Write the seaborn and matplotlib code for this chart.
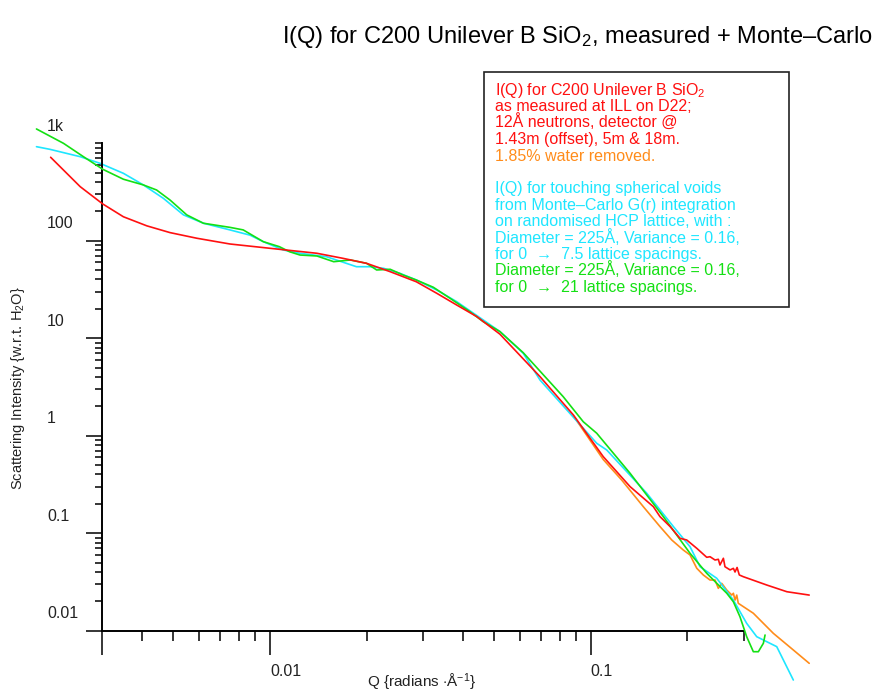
import numpy as np
import pandas as pd
import matplotlib
matplotlib.use("Agg")
import matplotlib.pyplot as plt
import matplotlib.transforms as mtransforms
from matplotlib.patches import Rectangle
import seaborn as sns

# --- data (Q in 1/A, I relative to H2O) ---
red_q = [0.00207, 0.00256, 0.00301, 0.00349, 0.00413, 0.00488, 0.00591, 0.00750,
         0.0107, 0.0140, 0.0169, 0.0200, 0.0237, 0.0286, 0.0331, 0.0382, 0.0442,
         0.0521, 0.0695, 0.0883, 0.1094, 0.1327, 0.1568, 0.1644, 0.1768, 0.1899,
         0.1992, 0.2141, 0.2300, 0.2355, 0.2441, 0.2500, 0.2529, 0.2592, 0.2622,
         0.2720, 0.2785, 0.2818, 0.2860, 0.2906, 0.2991, 0.354, 0.409, 0.480]
red_i = [717, 358, 238, 176, 142, 121, 106, 92.5,
         81.6, 74.3, 65.9, 58.6, 48.1, 37.9, 28.9, 21.9, 16.6,
         11.0, 4.03, 1.63, 0.610, 0.300, 0.187, 0.148, 0.117, 0.0886,
         0.0852, 0.0700, 0.0566, 0.0574, 0.0531, 0.0540, 0.0472, 0.0553, 0.0453,
         0.0420, 0.0436, 0.0400, 0.0445, 0.0373, 0.0358, 0.0294, 0.0251, 0.0232]

orange_q = [0.0883, 0.1094, 0.1249, 0.1459, 0.1644, 0.1789, 0.1944, 0.2040, 0.2141,
            0.2244, 0.2355, 0.2441, 0.2500, 0.2562, 0.2656, 0.2753, 0.2785, 0.2818,
            0.2853, 0.2885, 0.3214, 0.3710, 0.4283, 0.480]
orange_i = [1.60, 0.570, 0.351, 0.187, 0.117, 0.0852, 0.0672, 0.0598, 0.0437,
            0.0373, 0.0331, 0.0331, 0.0272, 0.0306, 0.0261, 0.0232, 0.0242, 0.0206,
            0.0232, 0.0191, 0.0151, 0.0094, 0.00634, 0.00463]

cyan_q = [0.00187, 0.00206, 0.00256, 0.00295, 0.00349, 0.00403, 0.00465, 0.00537,
          0.00620, 0.00750, 0.00866, 0.00953, 0.0110, 0.0124, 0.0150, 0.0173,
          0.0186, 0.0205, 0.0226, 0.0254, 0.0286, 0.0331, 0.0382, 0.0462, 0.0521,
          0.0616, 0.0695, 0.1044, 0.1122, 0.1495, 0.1810, 0.2040, 0.2192, 0.2471,
          0.2785, 0.3064, 0.3293, 0.354, 0.3802, 0.4283]
cyan_i = [921, 865, 727, 622, 491, 373, 272, 184,
          151, 129, 114, 97.7, 80.3, 74.3, 68.5, 58.6,
          54.1, 54.1, 52.1, 46.3, 39.5, 31.2, 23.7, 15.4, 11.7,
          7.00, 3.72, 0.836, 0.713, 0.257, 0.117, 0.0727, 0.0453, 0.0345,
          0.0206, 0.0119, 0.00868, 0.00771, 0.00686, 0.00312]

green_q = [0.00187, 0.00227, 0.00262, 0.00301, 0.00349, 0.00403, 0.00443, 0.00488,
           0.00550, 0.00620, 0.00750, 0.00825, 0.00953, 0.0107, 0.0115, 0.0124,
           0.0140, 0.0158, 0.0178, 0.0200, 0.0215, 0.0237, 0.0260, 0.0286, 0.0323,
           0.0364, 0.0420, 0.0462, 0.0521, 0.0616, 0.0821, 0.0948, 0.1044, 0.1327,
           0.1684, 0.2040, 0.2300, 0.2656, 0.2785, 0.2920, 0.3064, 0.3214, 0.3332,
           0.3454, 0.3496]
green_i = [1399, 997, 727, 540, 427, 373, 331, 261,
           184, 151, 137, 129, 97.7, 86.8, 77.1, 71.3,
           69.7, 60.9, 63.4, 58.6, 50.1, 50.9, 44.5, 39.5, 33.3,
           25.7, 18.7, 14.8, 11.7, 7.10, 2.51, 1.39, 1.06, 0.411,
           0.148, 0.0622, 0.0388, 0.0242, 0.0198, 0.0139, 0.00868, 0.00609, 0.00609,
           0.00743, 0.00903]

x_major = [0.003, 0.01, 0.1]
x_minor = [0.004, 0.005, 0.006, 0.007, 0.008, 0.009,
           0.02, 0.03, 0.04, 0.05, 0.06, 0.07, 0.08, 0.09, 0.2, 0.3]
x_labels = {0.01: "0.01", 0.1: "0.1"}
y_major = [0.01, 0.1, 1, 10, 100]
y_labels = {0.01: "0.01", 0.1: "0.1", 1: "1", 10: "10", 100: "100", 1000: "1k"}

C_RED = "#ff1010"
C_ORANGE = "#ff8c1a"
C_CYAN = "#1ee6ff"
C_GREEN = "#14e014"

legend_lines = [
    ("I(Q) for C200 Unilever B SiO$_2$", C_RED),
    ("as measured at ILL on D22;", C_RED),
    ("12Å neutrons, detector @", C_RED),
    ("1.43m (offset), 5m & 18m.", C_RED),
    ("1.85% water removed.", C_ORANGE),
    ("", C_RED),
    ("I(Q) for touching spherical voids", C_CYAN),
    ("from Monte–Carlo G(r) integration", C_CYAN),
    ("on randomised HCP lattice, with :", C_CYAN),
    ("Diameter = 225Å, Variance = 0.16,", C_CYAN),
    ("for 0  →  7.5 lattice spacings.", C_CYAN),
    ("Diameter = 225Å, Variance = 0.16,", C_GREEN),
    ("for 0  →  21 lattice spacings.", C_GREEN),
]

# --- style ---
sns.set_style("ticks")
plt.rcParams["font.family"] = ["Liberation Sans", "DejaVu Sans"]
plt.rcParams["mathtext.fontset"] = "custom"
plt.rcParams["mathtext.rm"] = "Liberation Sans"
plt.rcParams["mathtext.it"] = "Liberation Sans:italic"
plt.rcParams["mathtext.bf"] = "Liberation Sans:bold"

W, H = 876, 692
fig = plt.figure(figsize=(W / 100, H / 100), dpi=100)

# axes rectangle in pixels and its data limits (calibrated on the reference)
px_l, px_r, px_t, px_b = 30, 830, 110, 690
ax = fig.add_axes([px_l / W, 1 - px_b / H, (px_r - px_l) / W, (px_b - px_t) / H])
ax.set_xscale("log")
ax.set_yscale("log")
ax.set_xlim(0.001785, 0.5573)
ax.set_ylim(0.002465, 2190)

series = [
    (orange_q, orange_i, C_ORANGE, 1),
    (cyan_q, cyan_i, C_CYAN, 2),
    (green_q, green_i, C_GREEN, 3),
    (red_q, red_i, C_RED, 4),
]
for q, i, col, z in series:
    d = pd.DataFrame({"Q": q, "I": i})
    sns.lineplot(data=d, x="Q", y="I", color=col, linewidth=1.2, ax=ax,
                 estimator=None, sort=False, zorder=z)

ax.set_xlabel("")
ax.set_ylabel("")

# crossing axes, Igor-like
for s in ["top", "right"]:
    ax.spines[s].set_visible(False)
ax.spines["left"].set_position(("data", 0.003))
ax.spines["left"].set_bounds(0.01, 1000)
ax.spines["bottom"].set_position(("data", 0.01))
ax.spines["bottom"].set_bounds(0.003, 0.3)
for s in ["left", "bottom"]:
    ax.spines[s].set_linewidth(1.4)
    ax.spines[s].set_color("black")

ax.set_xticks(x_major)
ax.set_xticks(x_minor, minor=True)
y_minor = [m * 10.0 ** e for e in range(-2, 3) for m in range(2, 10)] + [1000]
ax.set_yticks(y_major)
ax.set_yticks(y_minor, minor=True)
ax.set_xticklabels([])
ax.set_xticklabels([], minor=True)
ax.set_yticklabels([])
ax.set_yticklabels([], minor=True)
ax.tick_params(axis="x", which="both", bottom=True, top=False, direction="out",
               width=1.1, color="black")
ax.tick_params(axis="y", which="both", left=True, right=False, direction="out",
               width=1.1, color="black")
ax.tick_params(axis="x", which="major", length=17.5)
ax.tick_params(axis="x", which="minor", length=7)
ax.tick_params(axis="y", which="major", length=11.5)
ax.tick_params(axis="y", which="minor", length=5)

# tick labels: y labels left-aligned at a fixed column, lifted above their ticks
up = mtransforms.ScaledTranslation(0, 17 / 100, fig.dpi_scale_trans)
for v, lab in y_labels.items():
    ax.text((47 - px_l) / (px_r - px_l), v, lab, transform=ax.get_yaxis_transform() + up,
            ha="left", va="center", fontsize=11.5, color="#222222")
down = mtransforms.ScaledTranslation(0, -41 / 100, fig.dpi_scale_trans)
for v, lab in x_labels.items():
    ax.text(v, 0.01, lab, transform=ax.transData + down,
            ha="left", va="center", fontsize=11.5, color="#222222")

fig.text(422 / W, 1 - 682 / H, "Q {radians $\\cdot$Å$^{-1}$}", ha="center", va="center",
         fontsize=11, color="#222222")
fig.text(18 / W, 1 - 388 / H, "Scattering Intensity {w.r.t. H$_2$O}", ha="center",
         va="center", rotation=90, fontsize=10.5, color="#222222")

fig.text(577 / W, 1 - 37 / H, "I(Q) for C200 Unilever B SiO$_2$, measured + Monte–Carlo",
         ha="center", va="center", fontsize=17, color="black")

# annotation box
fig.patches.append(Rectangle((484 / W, 1 - 307 / H), (789 - 484) / W, (307 - 72) / H,
                             transform=fig.transFigure, facecolor="white",
                             edgecolor="#222222", linewidth=1.2, zorder=5))
for k, (txt, col) in enumerate(legend_lines):
    if txt:
        fig.text(495 / W, 1 - (95 + 16.4 * k) / H, txt, ha="left", va="baseline",
                 fontsize=11.5, color=col, zorder=6)

fig.savefig("out.png", dpi=100)
